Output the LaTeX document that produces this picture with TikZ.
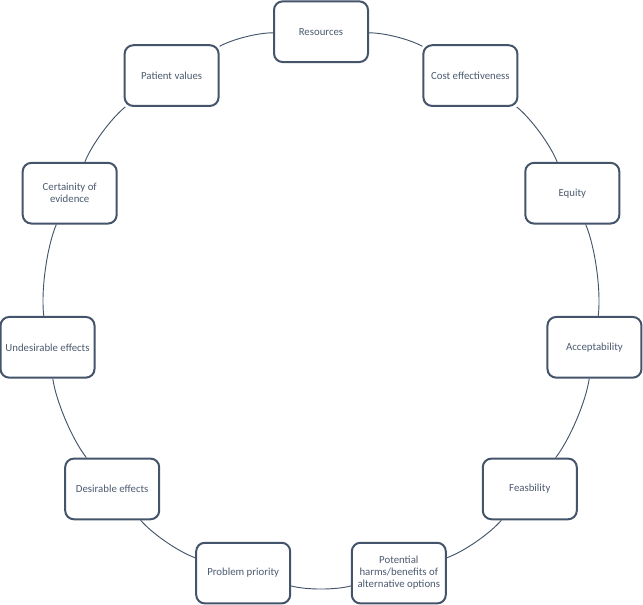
\documentclass[tikz,border=0pt]{standalone}
\usepackage{fontspec}
\setmainfont{Carlito}
\definecolor{slate}{RGB}{68,84,106}
\definecolor{slatetext}{RGB}{76,90,112}
\begin{document}
\begin{tikzpicture}[x=0.75pt,y=0.75pt,
  box/.style={draw=slate, line width=1.5pt, rounded corners=6.5pt, fill=white,
    minimum width=70.5pt, minimum height=45.5pt, inner sep=0pt, align=center,
    text=slatetext, font=\fontsize{8.1}{9}\selectfont},
  link/.style={draw=slate, line width=0.7pt, bend left=15, looseness=0.68}]
\useasboundingbox (0,0) rectangle (643,604);
\coordinate (C) at (321,296);
\node[box] (n0) at ([shift={(90:276.3)}]C) {Resources};
\node[box] (n1) at ([shift={(57.27:276.3)}]C) {Cost effectiveness};
\node[box] (n2) at ([shift={(24.55:276.3)}]C) {Equity};
\node[box] (n3) at ([shift={(-8.18:276.3)}]C) {Acceptability};
\node[box] (n4) at ([shift={(-40.91:276.3)}]C) {Feasbility};
\node[box] (n5) at ([shift={(-73.64:276.3)}]C) {Potential\\harms/benefits of\\alternative options};
\node[box] (n6) at ([shift={(-106.36:276.3)}]C) {Problem priority};
\node[box] (n7) at ([shift={(-139.09:276.3)}]C) {Desirable effects};
\node[box] (n8) at ([shift={(-171.82:276.3)}]C) {Undesirable effects};
\node[box] (n9) at ([shift={(155.45:276.3)}]C) {Certainity of\\evidence};
\node[box] (n10) at ([shift={(122.73:276.3)}]C) {Patient values};
\draw[link] (n0) to (n1);
\draw[link] (n1) to (n2);
\draw[link] (n2) to (n3);
\draw[link] (n3) to (n4);
\draw[link] (n4) to (n5);
\draw[link] (n5) to (n6);
\draw[link] (n6) to (n7);
\draw[link] (n7) to (n8);
\draw[link] (n8) to (n9);
\draw[link] (n9) to (n10);
\draw[link] (n10) to (n0);
\end{tikzpicture}
\end{document}
